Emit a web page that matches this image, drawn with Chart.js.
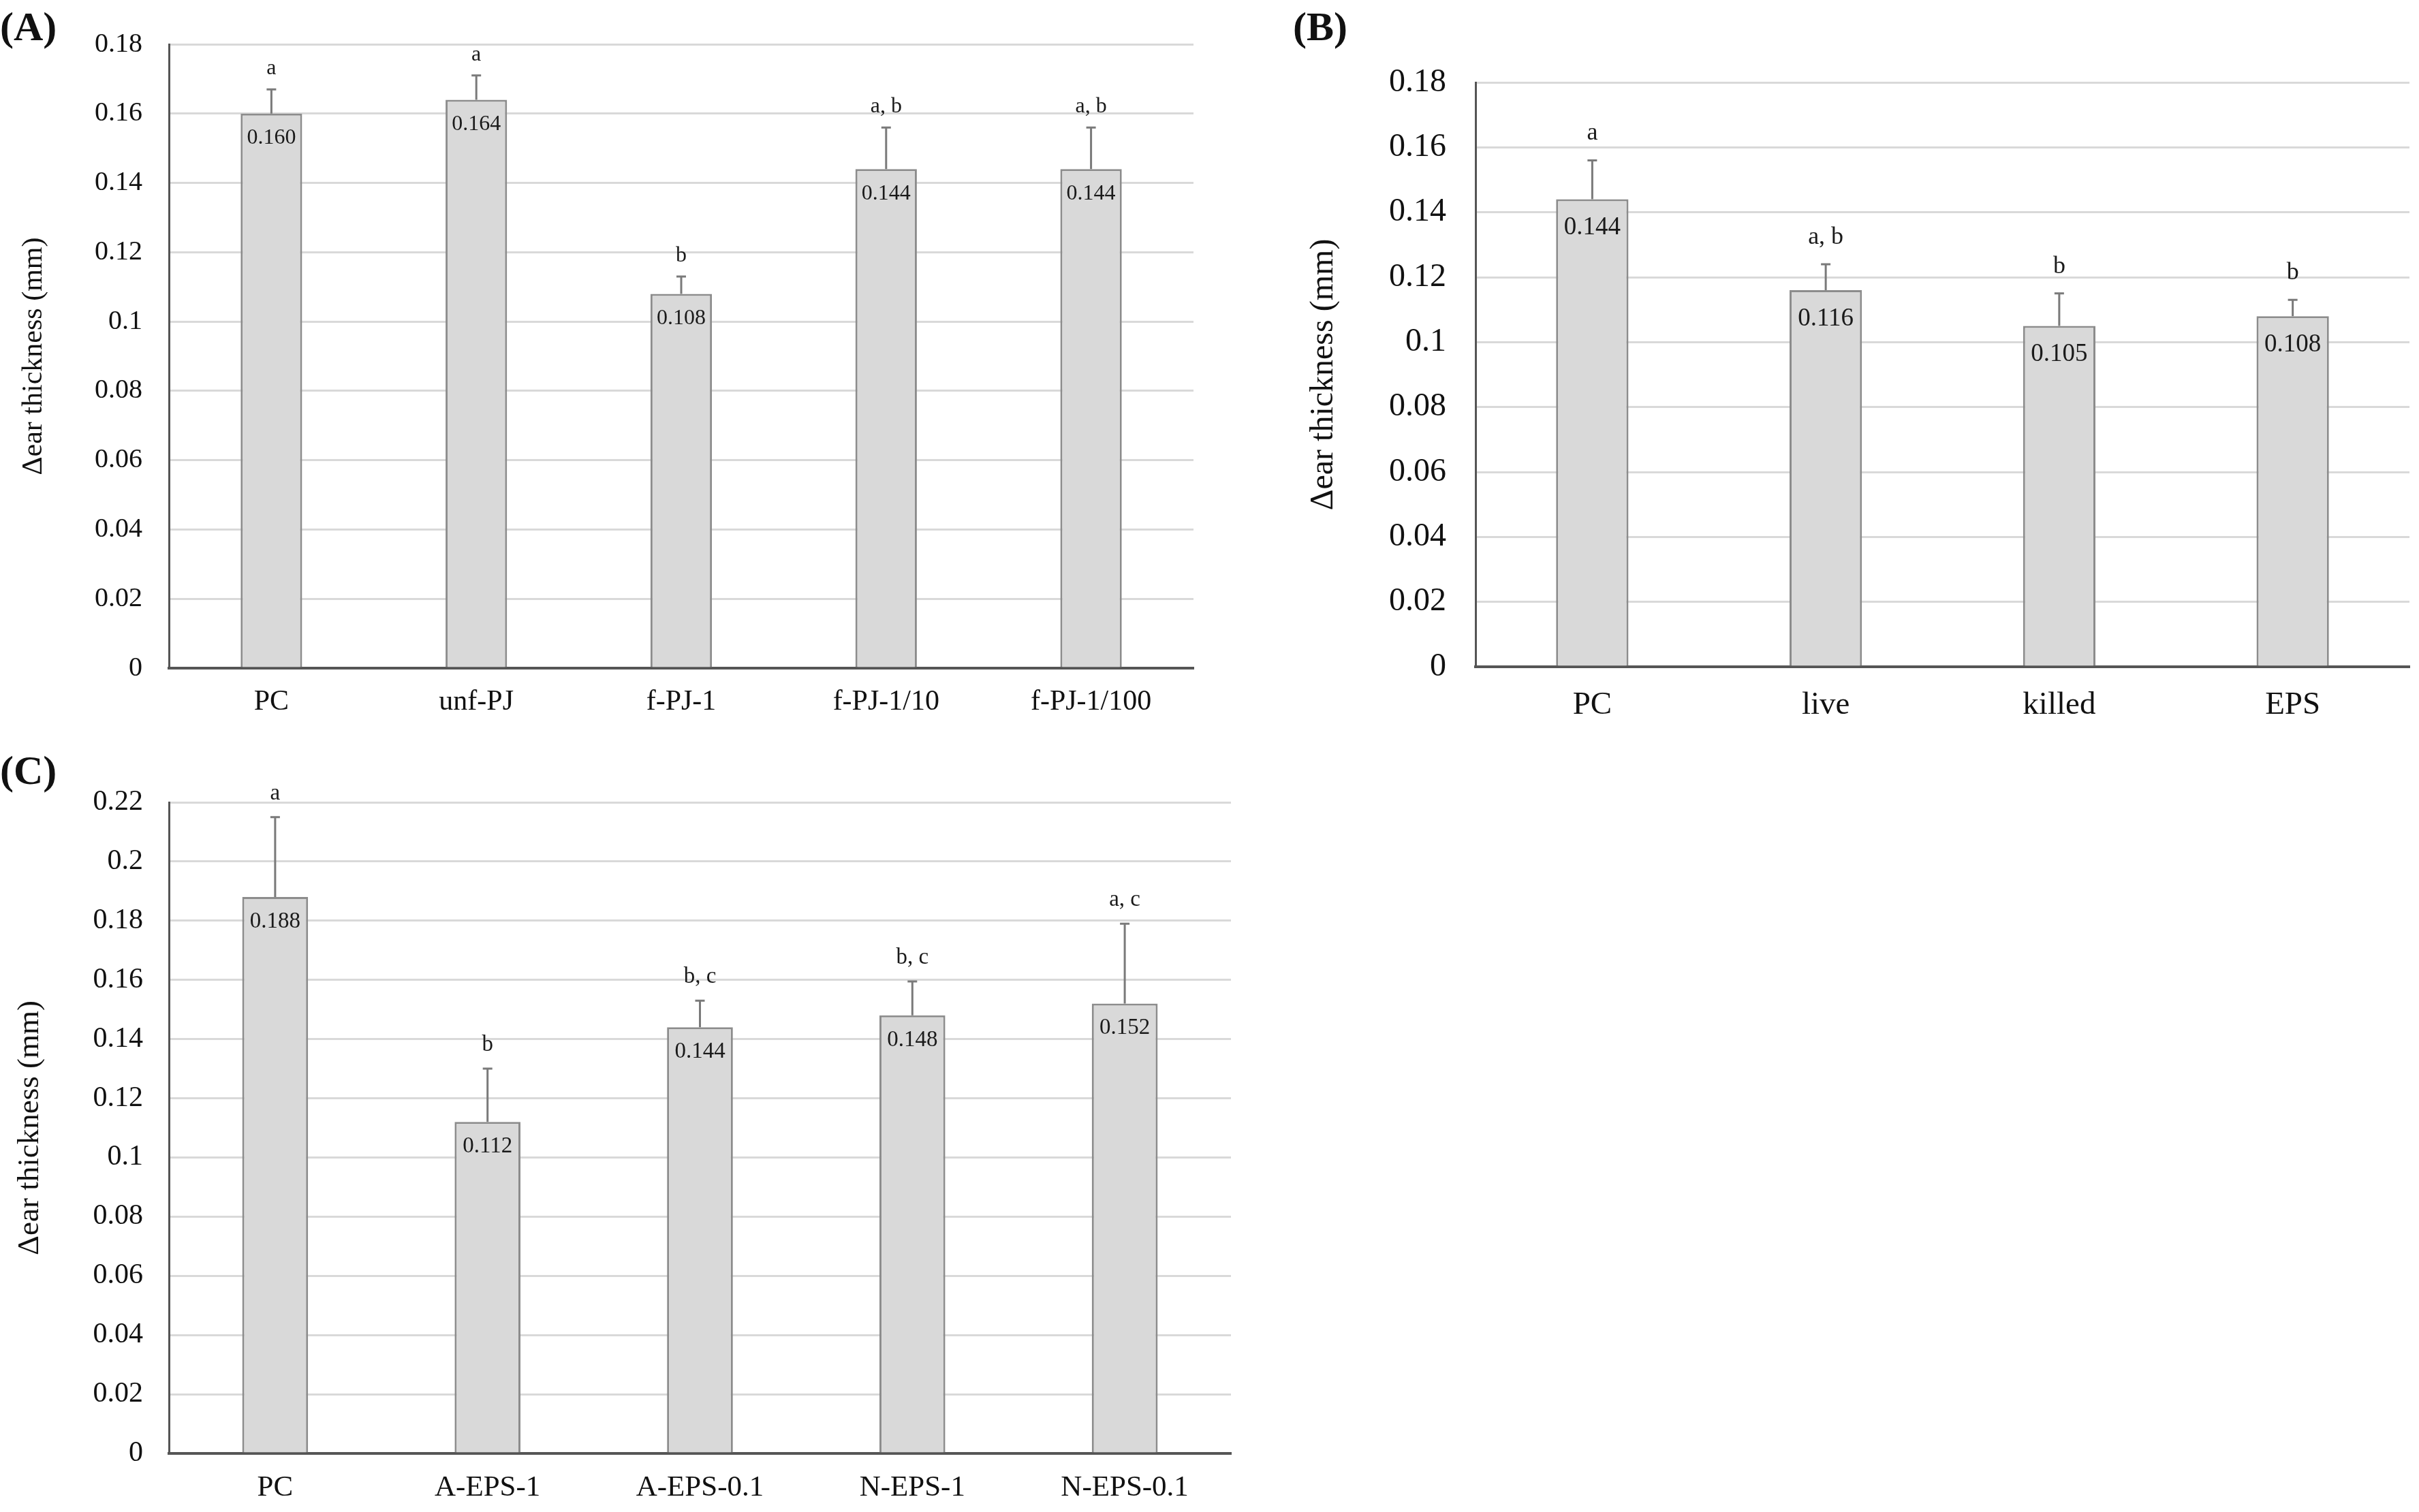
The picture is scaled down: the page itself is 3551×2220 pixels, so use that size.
<!DOCTYPE html>
<html>
<head>
<meta charset="utf-8">
<script src="https://cdn.jsdelivr.net/npm/chart.js@4.4.1/dist/chart.umd.min.js"></script>
<style>
body{margin:0;background:#fff;width:3551px;height:2220px;position:relative;overflow:hidden;font-family:"Liberation Serif","Times New Roman",serif}
canvas{position:absolute}
.tag{position:absolute;font-weight:bold;font-size:60px;line-height:1;color:#111}
</style>
</head>
<body>
<div class="tag" style="left:0;top:9px">(A)</div>
<div class="tag" style="left:1898px;top:9px">(B)</div>
<div class="tag" style="left:0;top:1101px">(C)</div>
<canvas id="chartA" width="1820" height="1080" style="left:0;top:0"></canvas>
<canvas id="chartB" width="1661" height="1080" style="left:1890px;top:0"></canvas>
<canvas id="chartC" width="1820" height="1130" style="left:0;top:1090px"></canvas>
<script>
// panel A
const groupsA = ['PC', 'unf-PJ', 'f-PJ-1', 'f-PJ-1/10', 'f-PJ-1/100']
const meansA = [0.160, 0.164, 0.108, 0.144, 0.144]
const errA = [0.007, 0.007, 0.005, 0.012, 0.012]
const lettersA = ['a', 'a', 'b', 'a, b', 'a, b']
const ticksA = [0, 0.02, 0.04, 0.06, 0.08, 0.1, 0.12, 0.14, 0.16, 0.18]
const tickLabelsA = ['0', '0.02', '0.04', '0.06', '0.08', '0.1', '0.12', '0.14', '0.16', '0.18']

// panel B
const groupsB = ['PC', 'live', 'killed', 'EPS']
const meansB = [0.144, 0.116, 0.105, 0.108]
const errB = [0.012, 0.008, 0.010, 0.005]
const lettersB = ['a', 'a, b', 'b', 'b']
const ticksB = [0, 0.02, 0.04, 0.06, 0.08, 0.1, 0.12, 0.14, 0.16, 0.18]
const tickLabelsB = ['0', '0.02', '0.04', '0.06', '0.08', '0.1', '0.12', '0.14', '0.16', '0.18']

// panel C
const groupsC = ['PC', 'A-EPS-1', 'A-EPS-0.1', 'N-EPS-1', 'N-EPS-0.1']
const meansC = [0.188, 0.112, 0.144, 0.148, 0.152]
const errC = [0.027, 0.018, 0.009, 0.0115, 0.027]
const lettersC = ['a', 'b', 'b, c', 'b, c', 'a, c']
const ticksC = [0, 0.02, 0.04, 0.06, 0.08, 0.1, 0.12, 0.14, 0.16, 0.18, 0.2, 0.22]
const tickLabelsC = ['0', '0.02', '0.04', '0.06', '0.08', '0.1', '0.12', '0.14', '0.16', '0.18', '0.2', '0.22']

const FONT = '"Liberation Serif", "Times New Roman", serif'

function makePanel(id, groups, means, errs, letters, ticks, tickLabels, st) {
    // error bars, value labels and significance letters
    const extras = {
        id: 'extras',
        afterDatasetsDraw(chart) {
            const ctx = chart.ctx
            const y = chart.scales.y
            const bars = chart.getDatasetMeta(0).data
            ctx.save()
            bars.forEach((bar, i) => {
                const top = y.getPixelForValue(means[i] + errs[i])
                ctx.strokeStyle = '#7a7a7a'
                ctx.lineWidth = 3
                ctx.beginPath()
                ctx.moveTo(bar.x, bar.y)
                ctx.lineTo(bar.x, top)
                ctx.moveTo(bar.x - 7, top)
                ctx.lineTo(bar.x + 7, top)
                ctx.stroke()

                ctx.fillStyle = '#1a1a1a'
                ctx.textAlign = 'center'
                ctx.textBaseline = 'middle'
                ctx.font = st.valueSize + 'px ' + FONT
                ctx.fillText(means[i].toFixed(3), bar.x, bar.y + st.valueGap)

                ctx.textBaseline = 'alphabetic'
                ctx.font = st.letterSize + 'px ' + FONT
                ctx.fillText(letters[i], bar.x, top - st.letterGap)
            })
            ctx.restore()
        }
    }

    return new Chart(document.getElementById(id), {
        type: 'bar',
        data: {
            labels: groups,
            datasets: [{
                data: means,
                backgroundColor: '#d9d9d9',
                borderColor: '#8c8c8c',
                borderWidth: 3,
                barPercentage: st.barPct,
                categoryPercentage: 1
            }]
        },
        options: {
            responsive: false,
            devicePixelRatio: 1,
            animation: false,
            layout: {padding: {left: 0, top: st.top, right: st.right, bottom: 0}},
            plugins: {legend: {display: false}, tooltip: {enabled: false}},
            scales: {
                x: {
                    grid: {display: false, drawTicks: false},
                    border: {color: '#555', width: 4},
                    ticks: {color: '#111', padding: st.xPad, font: {family: FONT, size: st.catSize}},
                    afterFit: s => { s.height = st.xHeight }
                },
                y: {
                    min: ticks[0],
                    max: ticks[ticks.length - 1],
                    afterBuildTicks: s => { s.ticks = ticks.map(v => ({value: v})) },
                    grid: {color: '#d9d9d9', lineWidth: 3, drawTicks: false},
                    border: {color: '#555', width: 3},
                    ticks: {
                        color: '#111',
                        padding: st.yPad,
                        font: {family: FONT, size: st.tickSize},
                        callback: (v, i) => tickLabels[i]
                    },
                    title: {
                        display: true,
                        text: '\u0394ear thickness (mm)',
                        color: '#111',
                        font: {family: FONT, size: st.titleSize},
                        padding: {top: st.titlePad, bottom: 0}
                    },
                    afterFit: s => { s.width = st.yWidth }
                }
            }
        },
        plugins: [extras]
    })
}

makePanel('chartA', groupsA, meansA, errA, lettersA, ticksA, tickLabelsA, {
    top: 65, right: 68, yWidth: 248, xHeight: 99, barPct: 0.30,
    tickSize: 40, catSize: 42, titleSize: 42, titlePad: 25, yPad: 39, xPad: 25,
    valueSize: 32, valueGap: 36, letterSize: 32, letterGap: 22
})

makePanel('chartB', groupsB, meansB, errB, lettersB, ticksB, tickLabelsB, {
    top: 121, right: 14, yWidth: 276, xHeight: 101, barPct: 0.31,
    tickSize: 48, catSize: 47, titleSize: 48, titlePad: 25, yPad: 43, xPad: 28,
    valueSize: 37, valueGap: 42, letterSize: 36, letterGap: 30
})

makePanel('chartC', groupsC, meansC, errC, lettersC, ticksC, tickLabelsC, {
    top: 88, right: 13, yWidth: 248, xHeight: 86, barPct: 0.31,
    tickSize: 42, catSize: 43, titleSize: 45, titlePad: 17, yPad: 38, xPad: 25,
    valueSize: 33, valueGap: 36, letterSize: 33, letterGap: 26
})
</script>
</body>
</html>
